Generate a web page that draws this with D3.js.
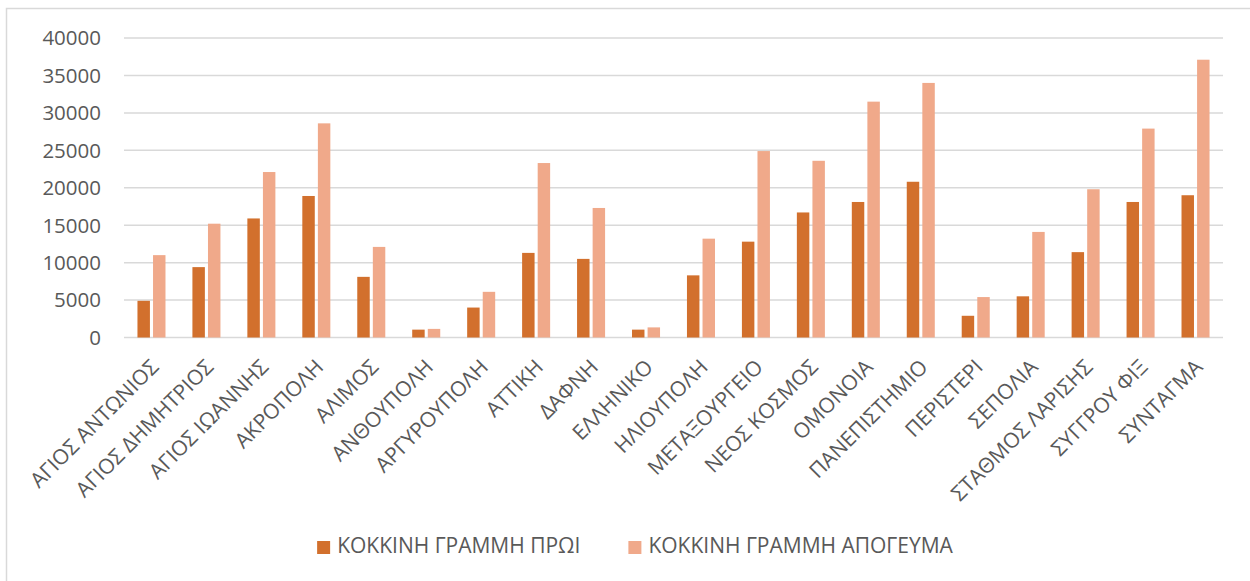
<!DOCTYPE html>
<meta charset="utf-8">
<style>
  body { margin: 0; background: #fff; }
  text { font-family: "Open Sans", sans-serif; fill: #595959; }
</style>
<body>
<div id="chart"></div>
<script src="https://d3js.org/d3.v7.min.js"></script>
<script>

// stations (x categories)
var stations = ["ΑΓΙΟΣ ΑΝΤΩΝΙΟΣ", "ΑΓΙΟΣ ΔΗΜΗΤΡΙΟΣ", "ΑΓΙΟΣ ΙΩΑΝΝΗΣ", "ΑΚΡΟΠΟΛΗ", "ΑΛΙΜΟΣ",
  "ΑΝΘΟΥΠΟΛΗ", "ΑΡΓΥΡΟΥΠΟΛΗ", "ΑΤΤΙΚΗ", "ΔΑΦΝΗ", "ΕΛΛΗΝΙΚΟ", "ΗΛΙΟΥΠΟΛΗ", "ΜΕΤΑΞΟΥΡΓΕΙΟ",
  "ΝΕΟΣ ΚΟΣΜΟΣ", "ΟΜΟΝΟΙΑ", "ΠΑΝΕΠΙΣΤΗΜΙΟ", "ΠΕΡΙΣΤΕΡΙ", "ΣΕΠΟΛΙΑ", "ΣΤΑΘΜΟΣ ΛΑΡΙΣΗΣ",
  "ΣΥΓΓΡΟΥ ΦΙΞ", "ΣΥΝΤΑΓΜΑ"]

// series names
var seriesNames = ["ΚΟΚΚΙΝΗ ΓΡΑΜΜΗ ΠΡΩΙ", "ΚΟΚΚΙΝΗ ΓΡΑΜΜΗ ΑΠΟΓΕΥΜΑ"]

// morning values
var morning = [4900, 9400, 15900, 18900, 8100, 1050, 4000, 11300, 10500, 1050,
  8300, 12800, 16700, 18100, 20800, 2900, 5500, 11400, 18100, 19000]

// afternoon values
var afternoon = [11000, 15200, 22100, 28600, 12100, 1150, 6100, 23300, 17300, 1350,
  13200, 24900, 23600, 31500, 34000, 5400, 14100, 19800, 27900, 37100]

var yTicks = [0, 5000, 10000, 15000, 20000, 25000, 30000, 35000, 40000]

var colors = ["#D2702D", "#F0A98A"]

var W = 1250, H = 581

var svg = d3.select("#chart").append("svg")
  .attr("width", W)
  .attr("height", H)

// outer chart border (right/bottom run off the page)
svg.append("rect")
  .attr("x", 6.5).attr("y", 8.5)
  .attr("width", W).attr("height", H)
  .attr("fill", "none")
  .attr("stroke", "#d9d9d9")
  .attr("stroke-width", 1.5)

var x0 = d3.scaleBand()
  .domain(stations)
  .range([124, 1223])
  .paddingInner(0.49)
  .paddingOuter(0.245)

var x1 = d3.scaleBand()
  .domain([0, 1])
  .range([0, x0.bandwidth()])
  .paddingInner(0.2)

var y = d3.scaleLinear()
  .domain([0, 40000])
  .range([337.5, 38])

// gridlines
svg.append("g")
  .selectAll("line")
  .data(yTicks)
  .enter().append("line")
    .attr("x1", 124).attr("x2", 1223)
    .attr("y1", function(d) { return y(d) })
    .attr("y2", function(d) { return y(d) })
    .attr("stroke", "#d9d9d9")
    .attr("stroke-width", 1.5)

// y tick labels
svg.append("g")
  .selectAll("text")
  .data(yTicks)
  .enter().append("text")
    .attr("x", 101)
    .attr("y", function(d) { return y(d) })
    .attr("dy", "0.36em")
    .attr("text-anchor", "end")
    .style("font-size", "20.5px")
    .text(function(d) { return d })

// bars
var data = stations.map(function(s, i) { return {name: s, vals: [morning[i], afternoon[i]]} })

var groups = svg.append("g")
  .selectAll("g")
  .data(data)
  .enter().append("g")
    .attr("transform", function(d) { return "translate(" + x0(d.name) + ",0)" })

groups.selectAll("rect")
  .data(function(d) { return d.vals.map(function(v, k) { return {k: k, v: v} }) })
  .enter().append("rect")
    .attr("x", function(d) { return x1(d.k) })
    .attr("width", x1.bandwidth())
    .attr("y", function(d) { return y(d.v) })
    .attr("height", function(d) { return y(0) - y(d.v) })
    .attr("fill", function(d) { return colors[d.k] })

// category labels, rotated
svg.append("g")
  .selectAll("text")
  .data(stations)
  .enter().append("text")
    .attr("transform", function(d) {
      return "translate(" + (x0(d) + x0.bandwidth() / 2 + 3) + ",363) rotate(-45)"
    })
    .attr("dy", "0.36em")
    .attr("text-anchor", "end")
    .style("font-size", "21px")
    .text(function(d) { return d })

// legend
var legend = svg.append("g")
var items = legend.selectAll("g")
  .data(seriesNames)
  .enter().append("g")

items.append("rect")
  .attr("width", 13).attr("height", 13)
  .attr("y", 541)
  .attr("fill", function(d, i) { return colors[i] })

items.append("text")
  .attr("x", 20)
  .attr("y", 553)
  .style("font-size", "21px")
  .text(function(d) { return d })

// lay out legend items side by side, centred
var gap = 48, pos = 0, offsets = []
items.each(function() {
  offsets.push(pos)
  pos += 20 + d3.select(this).select("text").node().getComputedTextLength() + gap
})
var total = pos - gap
var start = 635 - total / 2
items.attr("transform", function(d, i) { return "translate(" + (start + offsets[i]) + ",0)" })

</script>
</body>
